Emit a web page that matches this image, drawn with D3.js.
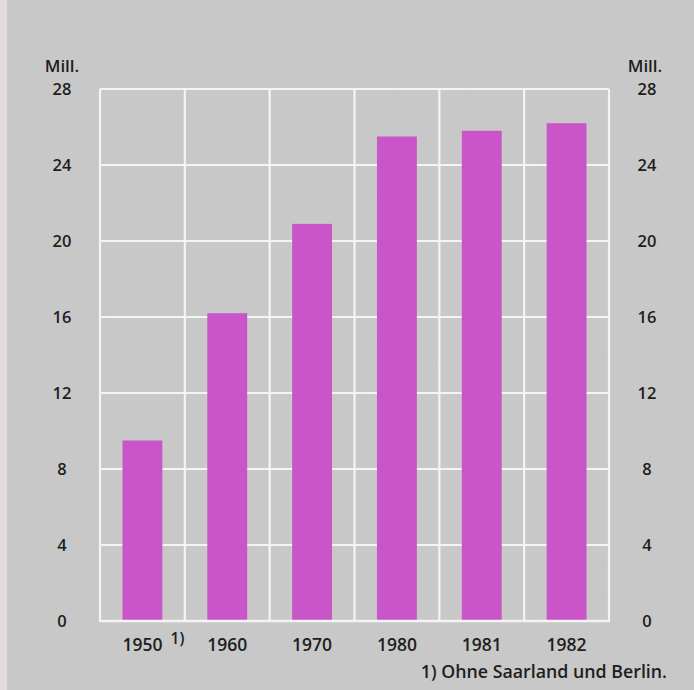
<!DOCTYPE html>
<html><head><meta charset="utf-8">
<script src="https://cdn.jsdelivr.net/npm/d3@7"></script>
<style>
html,body{margin:0;padding:0;background:#c9c9c9;}
text{font-family:"Open Sans",sans-serif;fill:#1e1e1e;font-weight:600;}
</style></head>
<body>
<svg id="chart" width="694" height="690"></svg>
<script>
const years = ["1950", "1960", "1970", "1980", "1981", "1982"];
const values = [9.5, 16.2, 20.9, 25.5, 25.8, 26.2];
const yTicks = [0, 4, 8, 12, 16, 20, 24, 28];
const unitLabel = "Mill.";
const footnote = "1) Ohne Saarland und Berlin.";
const footnoteMark = "1)";

const svg = d3.select("#chart");
const L = 100, R = 609, T = 89, B = 621;

// background + paper grain
const defs = svg.append("defs");
const f = defs.append("filter").attr("id","grain").attr("x",0).attr("y",0).attr("width","100%").attr("height","100%");
f.append("feTurbulence").attr("type","fractalNoise").attr("baseFrequency",0.9).attr("numOctaves",2).attr("seed",3).attr("result","n");
f.append("feColorMatrix").attr("in","n").attr("type","matrix")
 .attr("values","0 0 0 0 0.5  0 0 0 0 0.5  0 0 0 0 0.5  0 0 0 0.12 0");
svg.append("rect").attr("width",694).attr("height",690).attr("fill","#c9c9c9");
svg.append("rect").attr("width",694).attr("height",690).attr("filter","url(#grain)");
svg.append("rect").attr("x",0).attr("y",0).attr("width",7).attr("height",690).attr("fill","#e2dbdc");

const y = d3.scaleLinear().domain([0, 28]).range([B, T]);
const xCell = d3.scaleBand().domain(years).range([L, R]).padding(0);
const x = d3.scaleBand().domain(years).range([L, R]).paddingInner(0.53).paddingOuter(0.265);

const grid = svg.append("g").attr("stroke","#f4f4f4").attr("stroke-width",2.2);
grid.selectAll("line.h").data(yTicks).join("line")
  .attr("x1", L).attr("x2", R).attr("y1", d => y(d)).attr("y2", d => y(d));
const vx = years.map(d => xCell(d)).concat([R]);
grid.selectAll("line.v").data(vx).join("line")
  .attr("x1", d => d).attr("x2", d => d).attr("y1", T).attr("y2", B);

svg.append("g").selectAll("rect").data(years).join("rect")
  .attr("x", d => x(d)).attr("width", x.bandwidth())
  .attr("y", (d,i) => y(values[i])).attr("height", (d,i) => B - y(values[i]))
  .attr("fill", "#c955c9");

// bottom frame line on top of bars
svg.append("line").attr("x1",L-1).attr("x2",R+1).attr("y1",B).attr("y2",B)
  .attr("stroke","#f4f4f4").attr("stroke-width",2.5);

function yAxis(g, cx){
  g.attr("transform", `translate(${cx},0)`)
   .call(d3.axisLeft(y).tickValues(yTicks).tickSize(0).tickPadding(0))
   .call(a => a.select(".domain").remove());
  g.selectAll("text").attr("x",0).attr("text-anchor","middle")
   .style("font-size","16.5px").style("font-family","'Open Sans',sans-serif").style("font-weight","600").attr("fill","#1e1e1e");
}
svg.append("g").call(g => yAxis(g, 62));
svg.append("g").call(g => yAxis(g, 647));
svg.append("text").attr("x",62).attr("y",72).attr("text-anchor","middle").style("font-size","17px").text(unitLabel);
svg.append("text").attr("x",645).attr("y",72).attr("text-anchor","middle").style("font-size","17px").text(unitLabel);

const xa = svg.append("g").attr("transform",`translate(0,${B})`)
  .call(d3.axisBottom(x).tickSize(0));
xa.select(".domain").remove();
xa.selectAll("text").attr("y",30).attr("dy",0)
  .style("font-size","17.5px").style("font-family","'Open Sans',sans-serif").style("font-weight","600").attr("fill","#1e1e1e");

svg.append("text").attr("x", x(years[0]) + x.bandwidth()/2 + 35).attr("y", 644)
  .attr("text-anchor","middle").style("font-size","15.5px").text(footnoteMark);

svg.append("text").attr("x", 667).attr("y", 678).attr("text-anchor","end")
  .style("font-size","17.8px").text(footnote);
</script>
</body></html>
